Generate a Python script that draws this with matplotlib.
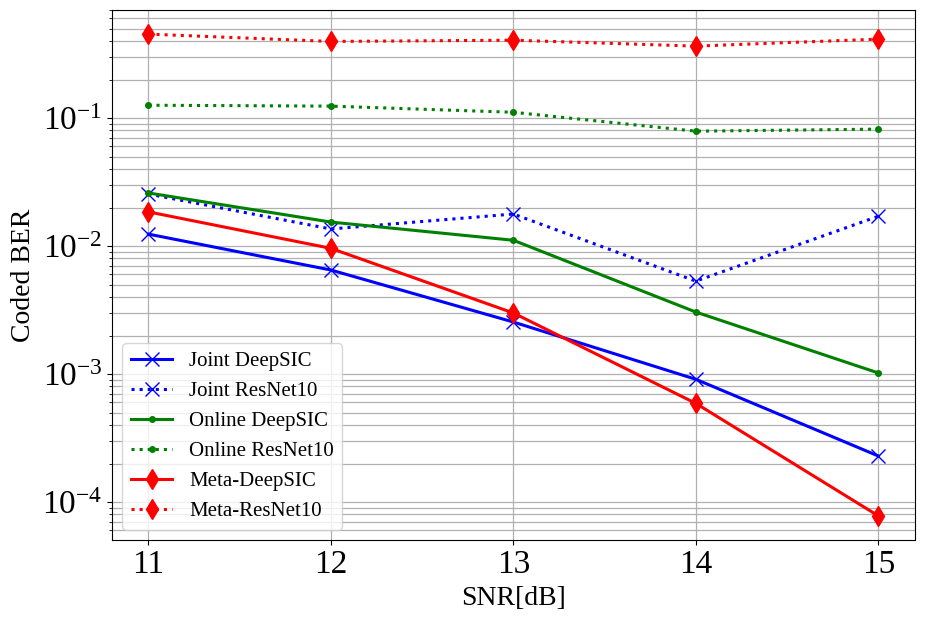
import matplotlib
matplotlib.use("Agg")
import matplotlib.pyplot as plt

snr = [11, 12, 13, 14, 15]
joint_deepsic = [0.0124, 0.0065, 0.00255, 0.00091, 0.000229]
joint_resnet = [0.0255, 0.0136, 0.0178, 0.00532, 0.0171]
online_deepsic = [0.026, 0.0154, 0.0111, 0.00305, 0.00102]
online_resnet = [0.126, 0.124, 0.111, 0.079, 0.082]
meta_deepsic = [0.0185, 0.0096, 0.0030, 0.00059, 0.000078]
meta_resnet = [0.453, 0.397, 0.406, 0.365, 0.414]

plt.rcParams['font.family'] = ['Liberation Serif', 'DejaVu Serif']
plt.rcParams['mathtext.fontset'] = 'stix'

fig = plt.figure(figsize=(9.25, 6.2), dpi=100)
ax = fig.add_axes([0.121, 0.129, 0.868, 0.855])

ax.plot(snr, joint_deepsic, color='blue', linestyle='-', marker='x', markersize=10, linewidth=2.2, label='Joint DeepSIC')
ax.plot(snr, joint_resnet, color='blue', linestyle=':', marker='x', markersize=10, linewidth=2.2, label='Joint ResNet10')
ax.plot(snr, online_deepsic, color='green', linestyle='-', marker='.', markersize=8, linewidth=2.2, label='Online DeepSIC')
ax.plot(snr, online_resnet, color='green', linestyle=':', marker='.', markersize=8, linewidth=2.2, label='Online ResNet10')
ax.plot(snr, meta_deepsic, color='red', linestyle='-', marker='d', markersize=10, linewidth=2.2, label='Meta-DeepSIC')
ax.plot(snr, meta_resnet, color='red', linestyle=':', marker='d', markersize=10, linewidth=2.2, label='Meta-ResNet10')

ax.set_yscale('log')
ax.set_ylim(5.05e-5, 0.70)
ax.set_xticks(snr)
ax.grid(True, which='both', color='#b0b0b0', linewidth=0.9)
ax.tick_params(axis='both', which='major', labelsize=24)
ax.set_xlabel('SNR[dB]', fontsize=20)
ax.set_ylabel('Coded BER', fontsize=20)
ax.legend(loc='lower left', fontsize=15, framealpha=0.8)

fig.savefig('out.png', dpi=100)
